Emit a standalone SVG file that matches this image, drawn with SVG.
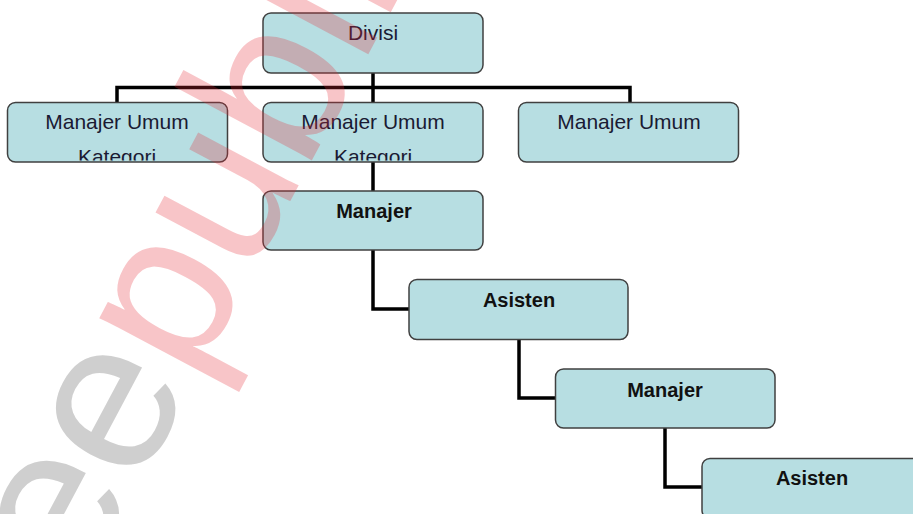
<svg xmlns="http://www.w3.org/2000/svg" width="913" height="514" viewBox="0 0 913 514">
  <style>
    .box { fill: #b7dee2; stroke: #404040; stroke-width: 1.5; }
    .lbl { font-family: "Liberation Sans", Arial, sans-serif; font-size: 21px; fill: #1a1a33; text-anchor: middle; }
    .bold { font-weight: bold; font-size: 20px; fill: #111; }
    .conn { fill: none; stroke: #000; stroke-width: 3.5; stroke-linejoin: miter; }
    .wm { font-family: "Liberation Sans", Arial, sans-serif; font-size: 215px; }
  </style>
  <defs>
    <clipPath id="clipL"><rect x="8" y="103" width="219" height="57.5" rx="7"/></clipPath>
    <clipPath id="clipM"><rect x="264" y="103" width="218" height="57.5" rx="7"/></clipPath>
  </defs>
  <rect width="913" height="514" fill="#fff"/>

  <g id="connectors">
    <path class="conn" d="M373,73 V102"/>
    <path class="conn" d="M117,102 V87.5 H630 V102"/>
    <path class="conn" d="M373,162 V191"/>
    <path class="conn" d="M373,250 V309 H409"/>
    <path class="conn" d="M519,339 V398 H555"/>
    <path class="conn" d="M665,428 V487 H702"/>
  </g>

  <g id="divisi">
    <rect class="box" x="263" y="13" width="220" height="60" rx="8"/>
    <text class="lbl" x="373" y="40">Divisi</text>
  </g>
  <g id="mu-left">
    <rect class="box" x="7.5" y="102.5" width="220" height="59.5" rx="8"/>
    <text class="lbl" x="117" y="129">Manajer Umum</text>
    <text class="lbl" x="117" y="164" clip-path="url(#clipL)">Kategori</text>
  </g>
  <g id="mu-middle">
    <rect class="box" x="263" y="102.5" width="220" height="59.5" rx="8"/>
    <text class="lbl" x="373" y="129">Manajer Umum</text>
    <text class="lbl" x="373" y="164" clip-path="url(#clipM)">Kategori</text>
  </g>
  <g id="mu-right">
    <rect class="box" x="518.5" y="102.5" width="220" height="59.5" rx="8"/>
    <text class="lbl" x="629" y="129">Manajer Umum</text>
  </g>
  <g id="manajer1">
    <rect class="box" x="263" y="191" width="220" height="59" rx="8"/>
    <text class="lbl bold" x="374" y="218">Manajer</text>
  </g>
  <g id="asisten1">
    <rect class="box" x="409" y="279.5" width="219" height="60" rx="8"/>
    <text class="lbl bold" x="519" y="307">Asisten</text>
  </g>
  <g id="manajer2">
    <rect class="box" x="555.5" y="369" width="219.5" height="59" rx="8"/>
    <text class="lbl bold" x="665" y="397">Manajer</text>
  </g>
  <g id="asisten2">
    <rect class="box" x="702" y="458.5" width="220" height="60" rx="8"/>
    <text class="lbl bold" x="812" y="485">Asisten</text>
  </g>

  <g id="watermark" transform="translate(227,320) rotate(-62)">
    <text class="wm" x="-431" y="0"><tspan fill="#808080" fill-opacity="0.38">dee</tspan><tspan fill="#e62832" fill-opacity="0.27">publish</tspan></text>
  </g>
</svg>
